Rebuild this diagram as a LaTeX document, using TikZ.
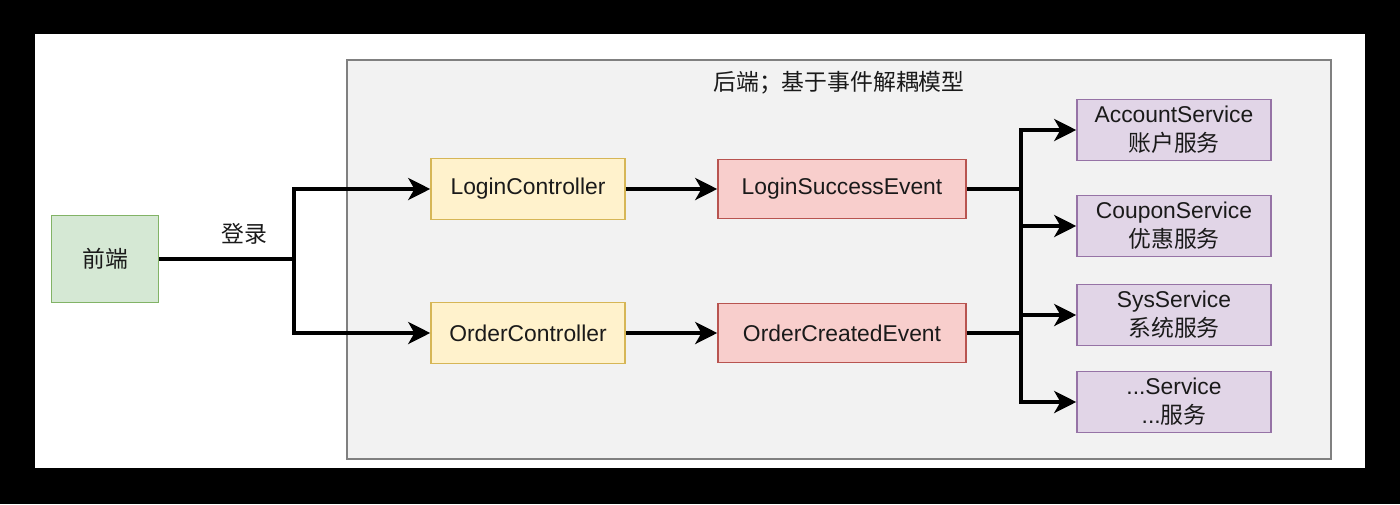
\documentclass[tikz,border=0pt]{standalone}
\usepackage{fontspec}
\setmainfont{Liberation Sans}
\newfontfamily\cjk{Noto Sans CJK SC}
\usetikzlibrary{arrows.meta, positioning}
\definecolor{grnfill}{HTML}{D5E8D4}\definecolor{grnline}{HTML}{82B366}
\definecolor{ylwfill}{HTML}{FFF2CC}\definecolor{ylwline}{HTML}{D6B656}
\definecolor{redfill}{HTML}{F8CECC}\definecolor{redline}{HTML}{B85450}
\definecolor{prpfill}{HTML}{E1D5E7}\definecolor{prpline}{HTML}{9673A6}
\definecolor{bkfill}{HTML}{F2F2F2}\definecolor{bkline}{HTML}{808080}
\definecolor{txt}{HTML}{1A1A1A}

\begin{document}
\begin{tikzpicture}[
  x=0.02cm, y=-0.02cm,
  box/.style={draw=#1, line width=0.9pt, inner sep=0pt, align=center, text=txt,
    font=\fontsize{13pt}{16.5pt}\selectfont},
  front/.style={box=grnline, fill=grnfill, minimum width=2.14cm, minimum height=1.74cm},
  ctrl/.style={box=ylwline, fill=ylwfill, minimum width=3.88cm, minimum height=1.22cm},
  evt/.style={box=redline, fill=redfill, minimum width=4.96cm, minimum height=1.18cm},
  svc/.style={box=prpline, fill=prpfill, minimum width=3.88cm, minimum height=1.22cm},
  arr/.style={-{Stealth[length=12.5pt, width=12.5pt, inset=3.5pt]}, line width=2.2pt},
  wire/.style={line width=2.2pt},
]
  % screenshot frame
  \fill[black] (0,0) rectangle (1400,504);
  \fill[white] (35,34) rectangle (1365,468);
  \draw[bkline, fill=bkfill, line width=0.9pt] (347,60) rectangle (1331,459);
  \node[text=txt, font=\fontsize{13pt}{16pt}\cjk] (title) at (839,83) {后端；基于事件解耦模型};

  \node[front] (web) at (105,259) {\cjk 前端};
  \node[ctrl] (loginctl) at (528,189) {LoginController};
  \node[ctrl] (orderctl) at (528,333) {OrderController};
  \node[evt] (loginevt) at (842,189) {LoginSuccessEvent};
  \node[evt] (orderevt) at (842,333) {OrderCreatedEvent};

  \node[svc] (account) at (1174,130) {AccountService\\\cjk 账户服务};
  \node[svc] (coupon)  at (1174,226) {CouponService\\\cjk 优惠服务};
  \node[svc] (sys)     at (1174,315) {SysService\\\cjk 系统服务};
  \node[svc] (more)    at (1174,402) {...Service\\...{\cjk 服务}};

  \coordinate (split) at (294,259);
  \coordinate (forka) at (1021,189);
  \coordinate (forkb) at (1021,333);

  \draw[wire] (web.east) -- node[pos=0.63, above=4pt, text=txt, font=\fontsize{13pt}{16pt}\cjk] {登录} (split);
  \draw[arr] (split) |- (loginctl.west);
  \draw[arr] (split) |- (orderctl.west);

  \draw[arr] (loginctl) -- (loginevt);
  \draw[arr] (orderctl) -- (orderevt);

  \draw[wire] (loginevt.east) -- (forka);
  \draw[wire] (orderevt.east) -- (forkb);
  \draw[wire] (forka) -- (forkb);
  \draw[arr] (forka) |- (account.west);
  \draw[arr] (forka) |- (coupon.west);
  \draw[arr] (forkb) |- (sys.west);
  \draw[arr] (forkb) |- (more.west);
\end{tikzpicture}
\end{document}
